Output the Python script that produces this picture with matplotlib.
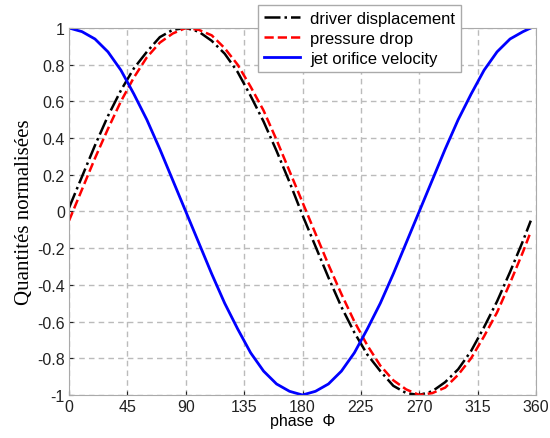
import matplotlib
matplotlib.use("Agg")
import matplotlib.pyplot as plt

phase = [0, 10, 20, 30, 40, 50, 60, 70, 80, 90, 100, 110, 120, 130, 140, 150, 160, 170,
         180, 190, 200, 210, 220, 230, 240, 250, 260, 270, 280, 290, 300, 310, 320, 330,
         340, 350, 356]

driver = [0.02, 0.19, 0.36, 0.52, 0.66, 0.78, 0.87, 0.95, 0.99, 1.00, 0.98, 0.93, 0.86,
          0.76, 0.63, 0.49, 0.33, 0.16, -0.02, -0.19, -0.36, -0.52, -0.66, -0.78, -0.87,
          -0.95, -0.99, -1.00, -0.98, -0.93, -0.86, -0.76, -0.63, -0.49, -0.33, -0.16, -0.05]

pressure = [-0.05, 0.12, 0.29, 0.45, 0.60, 0.73, 0.84, 0.92, 0.97, 1.00, 0.99, 0.96, 0.89,
            0.80, 0.68, 0.55, 0.39, 0.22, 0.05, -0.12, -0.29, -0.45, -0.60, -0.73, -0.84,
            -0.92, -0.97, -1.00, -0.99, -0.96, -0.89, -0.80, -0.68, -0.55, -0.39, -0.22, -0.11]

velocity = [1.00, 0.98, 0.94, 0.87, 0.77, 0.64, 0.50, 0.34, 0.17, 0.00, -0.17, -0.34, -0.50,
            -0.64, -0.77, -0.87, -0.94, -0.98, -1.00, -0.98, -0.94, -0.87, -0.77, -0.64, -0.50,
            -0.34, -0.17, 0.00, 0.17, 0.34, 0.50, 0.64, 0.77, 0.87, 0.94, 0.98, 1.00]

xticks = [0, 45, 90, 135, 180, 225, 270, 315, 360]
yticks = [-1, -0.8, -0.6, -0.4, -0.2, 0, 0.2, 0.4, 0.6, 0.8, 1]
ytick_labels = ['-1', '-0.8', '-0.6', '-0.4', '-0.2', '0', '0.2', '0.4', '0.6', '0.8', '1']

plt.rcParams['font.family'] = ['Liberation Sans', 'DejaVu Sans']

fig = plt.figure(figsize=(5.5, 4.39), dpi=100)
ax = fig.add_axes([0.1255, 0.098, 0.849, 0.836])

ax.plot(phase, driver, color='black', linestyle='-.', linewidth=1.8, label='driver displacement')
ax.plot(phase, pressure, color='red', linestyle='--', linewidth=1.8, label='pressure drop')
ax.plot(phase, velocity, color='blue', linestyle='-', linewidth=2, label='jet orifice velocity')

ax.set_xlim(0, 360)
ax.set_ylim(-1, 1)
ax.set_xticks(xticks)
ax.set_yticks(yticks)
ax.set_yticklabels(ytick_labels)
ax.tick_params(direction='in', length=3, labelsize=11.5, colors='#222222', pad=3)
for s in ax.spines.values():
    s.set_color('#aaaaaa')
ax.grid(True, linestyle=(0, (4, 3)), color='#bbbbbb', linewidth=1)

ax.set_xlabel('phase  \u03a6', fontsize=11.5, labelpad=-1)
ax.set_ylabel('Quantités normalisées', fontsize=15, family='Liberation Serif', labelpad=2)

leg = fig.legend(loc='upper left', bbox_to_anchor=(0.469, 0.986), fontsize=12,
                 fancybox=False, framealpha=1, edgecolor='#aaaaaa',
                 handlelength=2.2, borderpad=0.35, labelspacing=0.3, handletextpad=0.6,
                 borderaxespad=0)
leg.get_frame().set_linewidth(1)

fig.savefig('out.png', dpi=100)
